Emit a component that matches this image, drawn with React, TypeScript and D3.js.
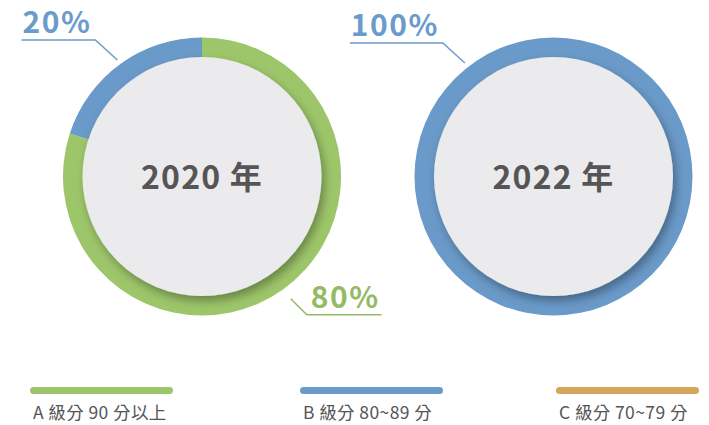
import React, { useEffect, useRef } from "react";
import * as d3 from "d3";

// ---- data ----
const categories = ["A 級分 90 分以上", "B 級分 80~89 分", "C 級分 70~79 分"];
const categoryColors = ["#9DC66A", "#6A9AC9", "#D4A65A"];
const labelColors = ["#94BB64", "#6B9BCB", "#C9A05A"];
const years = ["2020 年", "2022 年"];
const values2020 = [80, 20, 0];
const values2022 = [0, 100, 0];
const series = [values2020, values2022];

// ---- layout ----
const W = 709;
const H = 425;
const centersX = [202, 553.5];
const centerY = 176.5;
const outerR = 139;
const ringW = 22;
const innerDiscR = 119.5;
const legendX = [30, 300, 556];
const legendBarW = 143;
const FONT = "'Noto Sans CJK TC', 'Noto Sans', sans-serif";

export default function App() {
  const ref = useRef<SVGSVGElement | null>(null);

  useEffect(() => {
    const svg = d3.select(ref.current);
    svg.selectAll("*").remove();

    const defs = svg.append("defs");
    const f = defs
      .append("filter")
      .attr("id", "discShadow")
      .attr("x", "-20%")
      .attr("y", "-20%")
      .attr("width", "140%")
      .attr("height", "140%");
    f.append("feDropShadow")
      .attr("dx", 3)
      .attr("dy", 5)
      .attr("stdDeviation", 5)
      .attr("flood-color", "#000")
      .attr("flood-opacity", 0.33);

    const pie = d3
      .pie<number>()
      .sort(null)
      .value((d) => d);
    const arc = d3
      .arc<d3.PieArcDatum<number>>()
      .innerRadius(outerR - ringW - 4)
      .outerRadius(outerR);

    series.forEach((vals, si) => {
      const g = svg
        .append("g")
        .attr("transform", `translate(${centersX[si]},${centerY})`);
      const arcs = pie(vals);
      g.selectAll("path.slice")
        .data(arcs.filter((a) => a.value > 0))
        .join("path")
        .attr("class", "slice")
        .attr("d", arc)
        .attr("fill", (d) => categoryColors[d.index]);

      g.append("circle")
        .attr("r", innerDiscR)
        .attr("fill", "#EBEBED")
        .attr("filter", "url(#discShadow)");

      g.append("text")
        .attr("text-anchor", "middle")
        .attr("y", 12)
        .attr("font-family", FONT)
        .attr("font-weight", 700)
        .attr("font-size", 32)
        .attr("letter-spacing", 1.2)
        .attr("fill", "#555555")
        .text(years[si]);

      // labels
      arcs
        .filter((a) => a.value > 0)
        .forEach((a) => {
          const span = a.endAngle - a.startAngle;
          let ang = (a.startAngle + a.endAngle) / 2;
          if (span >= Math.PI * 2 - 1e-6) ang = (-38 * Math.PI) / 180;
          const sx = Math.sin(ang);
          const sy = -Math.cos(ang);
          const upper = sy < 0;
          const left = sx < 0;
          const r0 = outerR + (upper ? 5 : 12);
          const x0 = r0 * sx;
          const y0 = r0 * sy;
          const ex = x0 + (left ? -22 : 16);
          const ey = y0 + (upper ? -20 : 16);
          const pct = Math.round((a.value / d3.sum(vals)) * 100) + "%";
          const color = labelColors[a.index];
          const t = g
            .append("text")
            .attr("x", left ? ex - 4 : ex + 4)
            .attr("y", ey - 7)
            .attr("text-anchor", left ? "end" : "start")
            .attr("font-family", FONT)
            .attr("font-weight", 700)
            .attr("font-size", 30)
            .attr("letter-spacing", 1.5)
            .attr("fill", color)
            .text(pct);
          const tw = (t.node() as SVGTextElement).getComputedTextLength();
          const hx = left ? ex - 4 - tw - 1 : ex + 4 + tw + 2;
          g.append("path")
            .attr("d", `M${x0},${y0}L${ex},${ey}L${hx},${ey}`)
            .attr("fill", "none")
            .attr("stroke", color)
            .attr("stroke-width", 1.5);
        });
    });

    // legend
    const lg = svg.append("g");
    categories.forEach((c, i) => {
      lg.append("rect")
        .attr("x", legendX[i])
        .attr("y", 387)
        .attr("width", legendBarW)
        .attr("height", 7)
        .attr("rx", 3.5)
        .attr("fill", categoryColors[i]);
      lg.append("text")
        .attr("x", legendX[i] + 3)
        .attr("y", 419)
        .attr("font-family", FONT)
        .attr("font-size", 17.5)
        .attr("letter-spacing", 0.4)
        .attr("fill", "#555555")
        .text(c);
    });
  }, []);

  return (
    <svg
      ref={ref}
      width={W}
      height={H}
      style={{ position: "absolute", left: 0, top: 0, background: "#fff" }}
    />
  );
}
